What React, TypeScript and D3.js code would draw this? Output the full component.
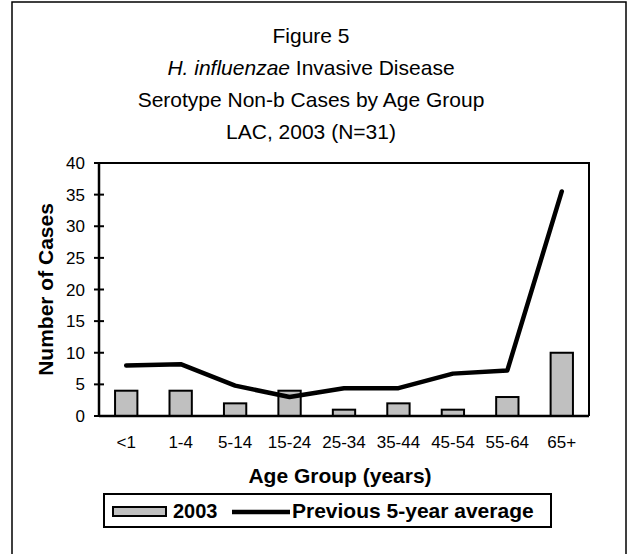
import React from "react";
import * as d3 from "d3";

const categories = ["<1", "1-4", "5-14", "15-24", "25-34", "35-44", "45-54", "55-64", "65+"];
const cases2003 = [4, 4, 2, 4, 1, 2, 1, 3, 10];
const prev5yrAvg = [8.0, 8.2, 4.8, 3.0, 4.4, 4.4, 6.7, 7.2, 35.5];
const yTicks = [0, 5, 10, 15, 20, 25, 30, 35, 40];
const titleLines = ["Figure 5", "H. influenzae Invasive Disease", "Serotype Non-b Cases by Age Group", "LAC, 2003 (N=31)"];

const W = 631;
const H = 554;
const FONT = "Liberation Sans, Arial, Helvetica, sans-serif";

export default function App() {
  const left = 99, right = 589, top = 163, bottom = 416;
  const x = d3.scaleBand<string>().domain(categories).range([left, right]).paddingInner(0).paddingOuter(0);
  const y = d3.scaleLinear().domain([0, 40]).range([bottom, top]);
  const barW = x.bandwidth() * 0.41;
  const line = d3
    .line<number>()
    .x((_, i) => (x(categories[i]) as number) + x.bandwidth() / 2)
    .y((d) => y(d));

  const titleX = 311;
  return (
    <svg width={W} height={H} style={{ position: "absolute", left: 0, top: 0, background: "#fff" }} fontFamily={FONT}>
      <rect x={12} y={2} width={614} height={H + 10} fill="#fff" stroke="#000" strokeWidth={1.5} />
      <text x={titleX} textAnchor="middle" fontSize={21} fill="#000">
        <tspan x={titleX} y={43}>{titleLines[0]}</tspan>
        <tspan x={titleX} y={75}>
          <tspan fontStyle="italic">H. influenzae</tspan>
          {" Invasive Disease"}
        </tspan>
        <tspan x={titleX} y={107}>{titleLines[2]}</tspan>
        <tspan x={titleX} y={139}>{titleLines[3]}</tspan>
      </text>

      {/* bars */}
      {cases2003.map((v, i) => {
        const cx = (x(categories[i]) as number) + x.bandwidth() / 2;
        return (
          <rect key={i} x={cx - barW / 2} y={y(v)} width={barW} height={bottom - y(v)} fill="#c0c0c0" stroke="#000" strokeWidth={2} />
        );
      })}

      {/* line */}
      <path d={line(prev5yrAvg) || ""} fill="none" stroke="#000" strokeWidth={4.5} strokeLinejoin="round" strokeLinecap="round" />

      {/* plot frame */}
      <path d={`M${left},${top}H${right}V${bottom}`} fill="none" stroke="#000" strokeWidth={2} />
      <line x1={left} y1={top} x2={left} y2={bottom} stroke="#000" strokeWidth={2.5} />
      <line x1={left} y1={bottom} x2={right} y2={bottom} stroke="#000" strokeWidth={2.5} />

      {/* y ticks */}
      {yTicks.map((t) => (
        <g key={t}>
          <line x1={left - 5} x2={left + 5} y1={y(t)} y2={y(t)} stroke="#000" strokeWidth={2} />
          <text x={85} y={y(t)} dy="0.36em" textAnchor="end" fontSize={17}>
            {t}
          </text>
        </g>
      ))}

      {/* x labels */}
      {categories.map((c) => (
        <text key={c} x={(x(c) as number) + x.bandwidth() / 2} y={448} textAnchor="middle" fontSize={17}>
          {c}
        </text>
      ))}

      <text x={340} y={483} textAnchor="middle" fontSize={21} fontWeight="bold">
        Age Group (years)
      </text>
      <text transform={`translate(53,${(top + bottom) / 2}) rotate(-90)`} textAnchor="middle" fontSize={21} fontWeight="bold">
        Number of Cases
      </text>

      {/* legend */}
      <rect x={104} y={494} width={447} height={33} fill="#fff" stroke="#000" strokeWidth={2} />
      <rect x={113} y={507} width={53} height={9} fill="#c0c0c0" stroke="#000" strokeWidth={2} />
      <text x={173} y={518} fontSize={20} fontWeight="bold">2003</text>
      <line x1={232} x2={290} y1={512} y2={512} stroke="#000" strokeWidth={4.5} />
      <text x={292} y={518} fontSize={21} fontWeight="bold">Previous 5-year average</text>
    </svg>
  );
}
